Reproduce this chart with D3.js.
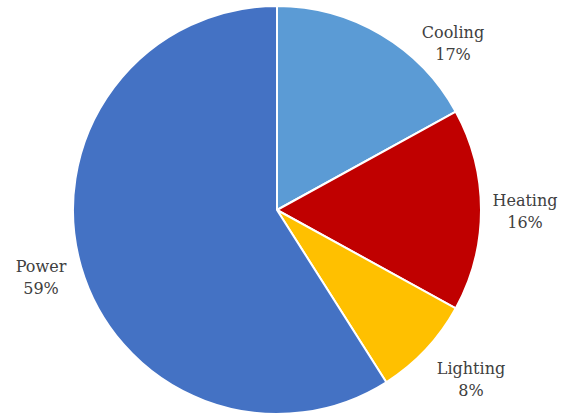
<!DOCTYPE html>
<html>
<head>
<meta charset="utf-8">
<script src="https://cdn.jsdelivr.net/npm/d3@7"></script>
<style>
  html, body { margin: 0; padding: 0; background: #fff; }
  svg { display: block; }
</style>
</head>
<body>
<svg id="chart" width="568" height="414"></svg>
<script>
// Energy use by end-use category (percent share)
const categories = ["Cooling", "Heating", "Lighting", "Power"];
const shares = [17, 16, 8, 59];
const colors = ["#5B9BD5", "#C00000", "#FFC000", "#4472C4"];

// Label anchor points (centre of each two-line label), relative to the pie centre
const labelOffsets = [[176, -160], [248, 8], [194, 176], [-236, 74]];

const width = 568, height = 414;
const cx = 277, cy = 210, radius = 204;

const svg = d3.select("#chart");
const g = svg.append("g").attr("transform", `translate(${cx},${cy})`);

const data = categories.map((c, i) => ({ name: c, value: shares[i], color: colors[i] }));

const pie = d3.pie().value(d => d.value).sort(null);
const arc = d3.arc().innerRadius(0).outerRadius(radius);

g.selectAll("path.slice")
  .data(pie(data))
  .join("path")
  .attr("class", "slice")
  .attr("d", arc)
  .attr("fill", d => d.data.color)
  .attr("stroke", "#fff")
  .attr("stroke-width", 2)
  .attr("stroke-linejoin", "round");

const labels = g.selectAll("text.lbl")
  .data(pie(data))
  .join("text")
  .attr("class", "lbl")
  .attr("text-anchor", "middle")
  .style("font-family", "'DejaVu Serif', serif")
  .attr("font-size", 16)
  .attr("fill", "#404040")
  .attr("transform", (d, i) => `translate(${labelOffsets[i][0]},${labelOffsets[i][1]})`);

labels.append("tspan")
  .attr("x", 0)
  .attr("y", -12)
  .text(d => d.data.name);

labels.append("tspan")
  .attr("x", 0)
  .attr("y", 10)
  .text(d => d.data.value + "%");
</script>
</body>
</html>
